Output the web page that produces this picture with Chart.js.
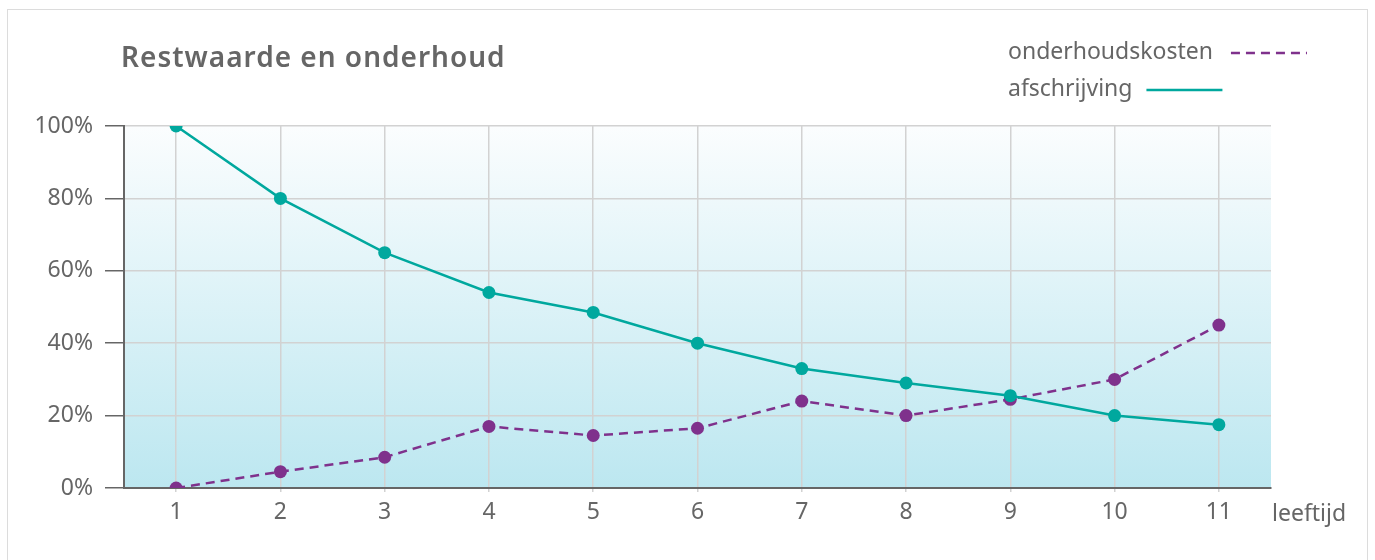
<!DOCTYPE html>
<html>
<head>
<meta charset="utf-8">
<script src="https://cdn.jsdelivr.net/npm/chart.js@4/dist/chart.umd.min.js"></script>
<style>
  html, body { margin: 0; padding: 0; background: #fff; }
  #wrap { position: relative; width: 1375px; height: 560px; overflow: hidden; }
  #frame { position: absolute; left: 7px; top: 9px; width: 1361px; height: 600px; border: 1px solid #dcdcdc; box-sizing: border-box; }
  canvas { position: absolute; left: 0; top: 0; }
</style>
</head>
<body>
<div id="wrap">
  <div id="frame"></div>
  <canvas id="c" width="1375" height="560"></canvas>
</div>
<script>
const title = 'Restwaarde en onderhoud';
const xAxisTitle = 'leeftijd';
const categories = ['1','2','3','4','5','6','7','8','9','10','11'];
const yTicks = [0, 20, 40, 60, 80, 100];
const afschrijving = [100, 80, 65, 54, 48.5, 40, 33, 29, 25.5, 20, 17.5];
const onderhoudskosten = [0, 4.5, 8.5, 17, 14.5, 16.5, 24, 20, 24.5, 30, 45];

const TEAL = '#00a89e';
const PURPLE = '#7f318c';
const TEXT = '#666666';
const FONT = "'Noto Sans', sans-serif";

const bgPlugin = {
  id: 'bg',
  beforeDraw(chart) {
    const { ctx, chartArea: a } = chart;
    const g = ctx.createLinearGradient(0, a.top, 0, a.bottom);
    g.addColorStop(0, '#fbfdfe');
    g.addColorStop(1, '#bce7f0');
    ctx.save();
    ctx.fillStyle = g;
    ctx.fillRect(a.left, a.top, a.right - a.left, a.bottom - a.top);
    ctx.restore();
  }
};

const textPlugin = {
  id: 'texts',
  afterDraw(chart) {
    const { ctx, chartArea: a } = chart;
    ctx.save();
    ctx.textBaseline = 'middle';
    ctx.textAlign = 'left';
    // title
    ctx.fillStyle = '#666666';
    ctx.font = "600 28px 'Noto Sans', sans-serif";
    if ('letterSpacing' in ctx) ctx.letterSpacing = '1px';
    ctx.fillText(title, 121, 59);
    if ('letterSpacing' in ctx) ctx.letterSpacing = '0px';
    // x axis title
    ctx.font = "23px 'Noto Sans', sans-serif";
    ctx.fillStyle = TEXT;
    ctx.fillText(xAxisTitle, a.right + 1, 514);
    // legend (text followed by line sample)
    const items = [
      { ds: chart.data.datasets[1], y: 52, gap: 18 },
      { ds: chart.data.datasets[0], y: 89, gap: 14 }
    ];
    items.forEach(it => {
      ctx.fillStyle = TEXT;
      ctx.fillText(it.ds.label, 1008, it.y);
      const w = ctx.measureText(it.ds.label).width;
      const x0 = 1008 + w + it.gap;
      ctx.beginPath();
      ctx.strokeStyle = it.ds.borderColor;
      ctx.lineWidth = 2.5;
      ctx.setLineDash(it.ds.borderDash || []);
      ctx.moveTo(x0, it.y + 1);
      ctx.lineTo(x0 + 76, it.y + 1);
      ctx.stroke();
    });
    ctx.restore();
  }
};

new Chart(document.getElementById('c'), {
  type: 'line',
  data: {
    labels: categories,
    datasets: [
      {
        label: 'afschrijving',
        data: afschrijving,
        borderColor: TEAL,
        backgroundColor: TEAL,
        borderWidth: 2.5,
        pointRadius: 6.5,
        pointHoverRadius: 6.5,
        pointBorderWidth: 0,
        tension: 0,
        order: 1
      },
      {
        label: 'onderhoudskosten',
        data: onderhoudskosten,
        borderColor: PURPLE,
        backgroundColor: PURPLE,
        borderWidth: 2.5,
        borderDash: [9, 6],
        pointRadius: 6.5,
        pointHoverRadius: 6.5,
        pointBorderWidth: 0,
        tension: 0,
        order: 2
      }
    ]
  },
  options: {
    responsive: false,
    animation: false,
    devicePixelRatio: 1,
    layout: { padding: { left: 0, right: 104, top: 126, bottom: 0 } },
    plugins: { legend: { display: false }, title: { display: false }, tooltip: { enabled: false } },
    scales: {
      x: {
        type: 'category',
        offset: true,
        grid: { offset: false, color: '#d2d2d2', lineWidth: 1.5, drawTicks: true, tickLength: 4, tickColor: '#d2d2d2' },
        border: { color: '#666666', width: 2 },
        ticks: { color: TEXT, font: { family: FONT, size: 23 }, padding: 7, maxRotation: 0, autoSkip: false },
        afterFit(s) { s.height = 560 - 488; }
      },
      y: {
        min: 0, max: 100,
        afterBuildTicks(s) { s.ticks = yTicks.map(v => ({ value: v })); },
        grid: { color: '#d2d2d2', lineWidth: 1.5, drawTicks: true, tickLength: 19, tickColor: '#666666' },
        border: { color: '#666666', width: 2 },
        ticks: { color: TEXT, font: { family: FONT, size: 23 }, padding: 12, callback: v => v + '%' },
        afterFit(s) { s.width = 124; }
      }
    }
  },
  plugins: [bgPlugin, textPlugin]
});
</script>
</body>
</html>
